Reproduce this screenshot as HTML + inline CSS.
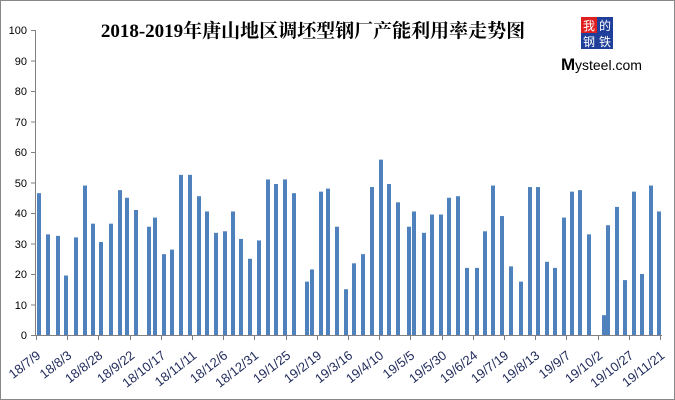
<!DOCTYPE html>
<html><head><meta charset="utf-8"><style>
body{margin:0;background:#fff}
svg{display:block}
</style></head><body>
<svg width="675" height="400" xmlns="http://www.w3.org/2000/svg" font-family="Liberation Sans, sans-serif">
<rect x="0.5" y="0.5" width="674" height="399" fill="#fff" stroke="#888"/>
<text x="313" y="37" text-anchor="middle" font-family="Liberation Serif, Noto Serif CJK SC, serif" font-weight="bold" font-size="19">2018-2019年唐山地区调坯型钢厂产能利用率走势图</text>
<g font-family="Noto Sans CJK SC, sans-serif" font-size="12" fill="#fff" text-anchor="middle">
<rect x="581" y="17" width="16" height="16" fill="#e02020"/><rect x="597" y="17" width="16" height="16" fill="#1f3f9a"/>
<rect x="581" y="33" width="16" height="16" fill="#1f3f9a"/><rect x="597" y="33" width="16" height="16" fill="#1f3f9a"/>
<text x="589" y="30">我</text><text x="605" y="30">的</text><text x="589" y="46">钢</text><text x="605" y="46">铁</text>
</g>
<text x="561" y="70" font-size="17" font-weight="bold" fill="#000">M</text>
<text x="575" y="70" font-size="14" fill="#000">ysteel.com</text>
<g font-size="11" fill="#000" text-anchor="end">
<text x="27" y="339">0</text><text x="27" y="309">10</text><text x="27" y="278">20</text><text x="27" y="248">30</text><text x="27" y="217">40</text><text x="27" y="187">50</text><text x="27" y="156">60</text><text x="27" y="126">70</text><text x="27" y="95">80</text><text x="27" y="65">90</text><text x="27" y="34">100</text>
</g>
<g stroke="#808080" stroke-width="1">
<line x1="35.5" y1="30" x2="35.5" y2="335"/>
<line x1="35" y1="335.5" x2="662" y2="335.5"/>
<line x1="31" y1="30.5" x2="35" y2="30.5"/><line x1="31" y1="61" x2="35" y2="61"/><line x1="31" y1="91.5" x2="35" y2="91.5"/><line x1="31" y1="122" x2="35" y2="122"/><line x1="31" y1="152.5" x2="35" y2="152.5"/><line x1="31" y1="183" x2="35" y2="183"/><line x1="31" y1="213.5" x2="35" y2="213.5"/><line x1="31" y1="244" x2="35" y2="244"/><line x1="31" y1="274.5" x2="35" y2="274.5"/><line x1="31" y1="305" x2="35" y2="305"/><line x1="31" y1="335.5" x2="35" y2="335.5"/>
</g>
<g id="bars" fill="#4f81bd"></g>
<g id="ticks" stroke="#808080"></g>
<g id="labels" font-size="13" fill="#1f2a5a" text-anchor="end"></g>
<script>
var d=[[39,46.5],[48,33],[58,32.5],[66,19.5],[76,32],[85,49],[93,36.5],[101,30.5],[111,36.5],[120,47.5],[127,45],[136,41],[149,35.5],[155,38.5],[164,26.5],[172,28],[181,52.5],[190,52.5],[199,45.5],[207,40.5],[216,33.5],[225,34],[233,40.5],[241,31.5],[250,25],[259,31],[268,51],[276,49.5],[285,51],[294,46.5],[307,17.5],[312,21.5],[321,47],[328,48],[337,35.5],[346,15],[354,23.5],[363,26.5],[372,48.5],[381,57.5],[389,49.5],[398,43.5],[409,35.5],[414,40.5],[424,33.5],[432,39.5],[441,39.5],[449,45],[458,45.5],[467,22],[477,22],[485,34],[493,49],[502,39],[511,22.5],[521,17.5],[530,48.5],[538,48.5],[547,24],[555,22],[564,38.5],[572,47],[580,47.5],[589,33],[604,6.5],[608,36],[617,42],[625,18],[634,47],[642,20],[651,49],[659,40.5]];
var ns="http://www.w3.org/2000/svg",b=document.getElementById("bars");
d.forEach(function(p){var r=document.createElementNS(ns,"rect");var h=p[1]*3.05;r.setAttribute("x",p[0]-2);r.setAttribute("y",335-h);r.setAttribute("width",4);r.setAttribute("height",h);b.appendChild(r);});
var L=["18/7/9","18/8/3","18/8/28","18/9/22","18/10/17","18/11/11","18/12/6","18/12/31","19/1/25","19/2/19","19/3/16","19/4/10","19/5/5","19/5/30","19/6/24","19/7/19","19/8/13","19/9/7","19/10/2","19/10/27","19/11/21"];
var t=document.getElementById("ticks"),l=document.getElementById("labels");
L.forEach(function(s,i){var x=Math.round(36+i*31.2)+0.5;var ln=document.createElementNS(ns,"line");ln.setAttribute("x1",x);ln.setAttribute("x2",x);ln.setAttribute("y1",335);ln.setAttribute("y2",340);t.appendChild(ln);
var tx=document.createElementNS(ns,"text");tx.setAttribute("transform","translate("+(x+5)+",357) rotate(-38)");tx.textContent=s;l.appendChild(tx);});
</script>
</svg>
</body></html>
